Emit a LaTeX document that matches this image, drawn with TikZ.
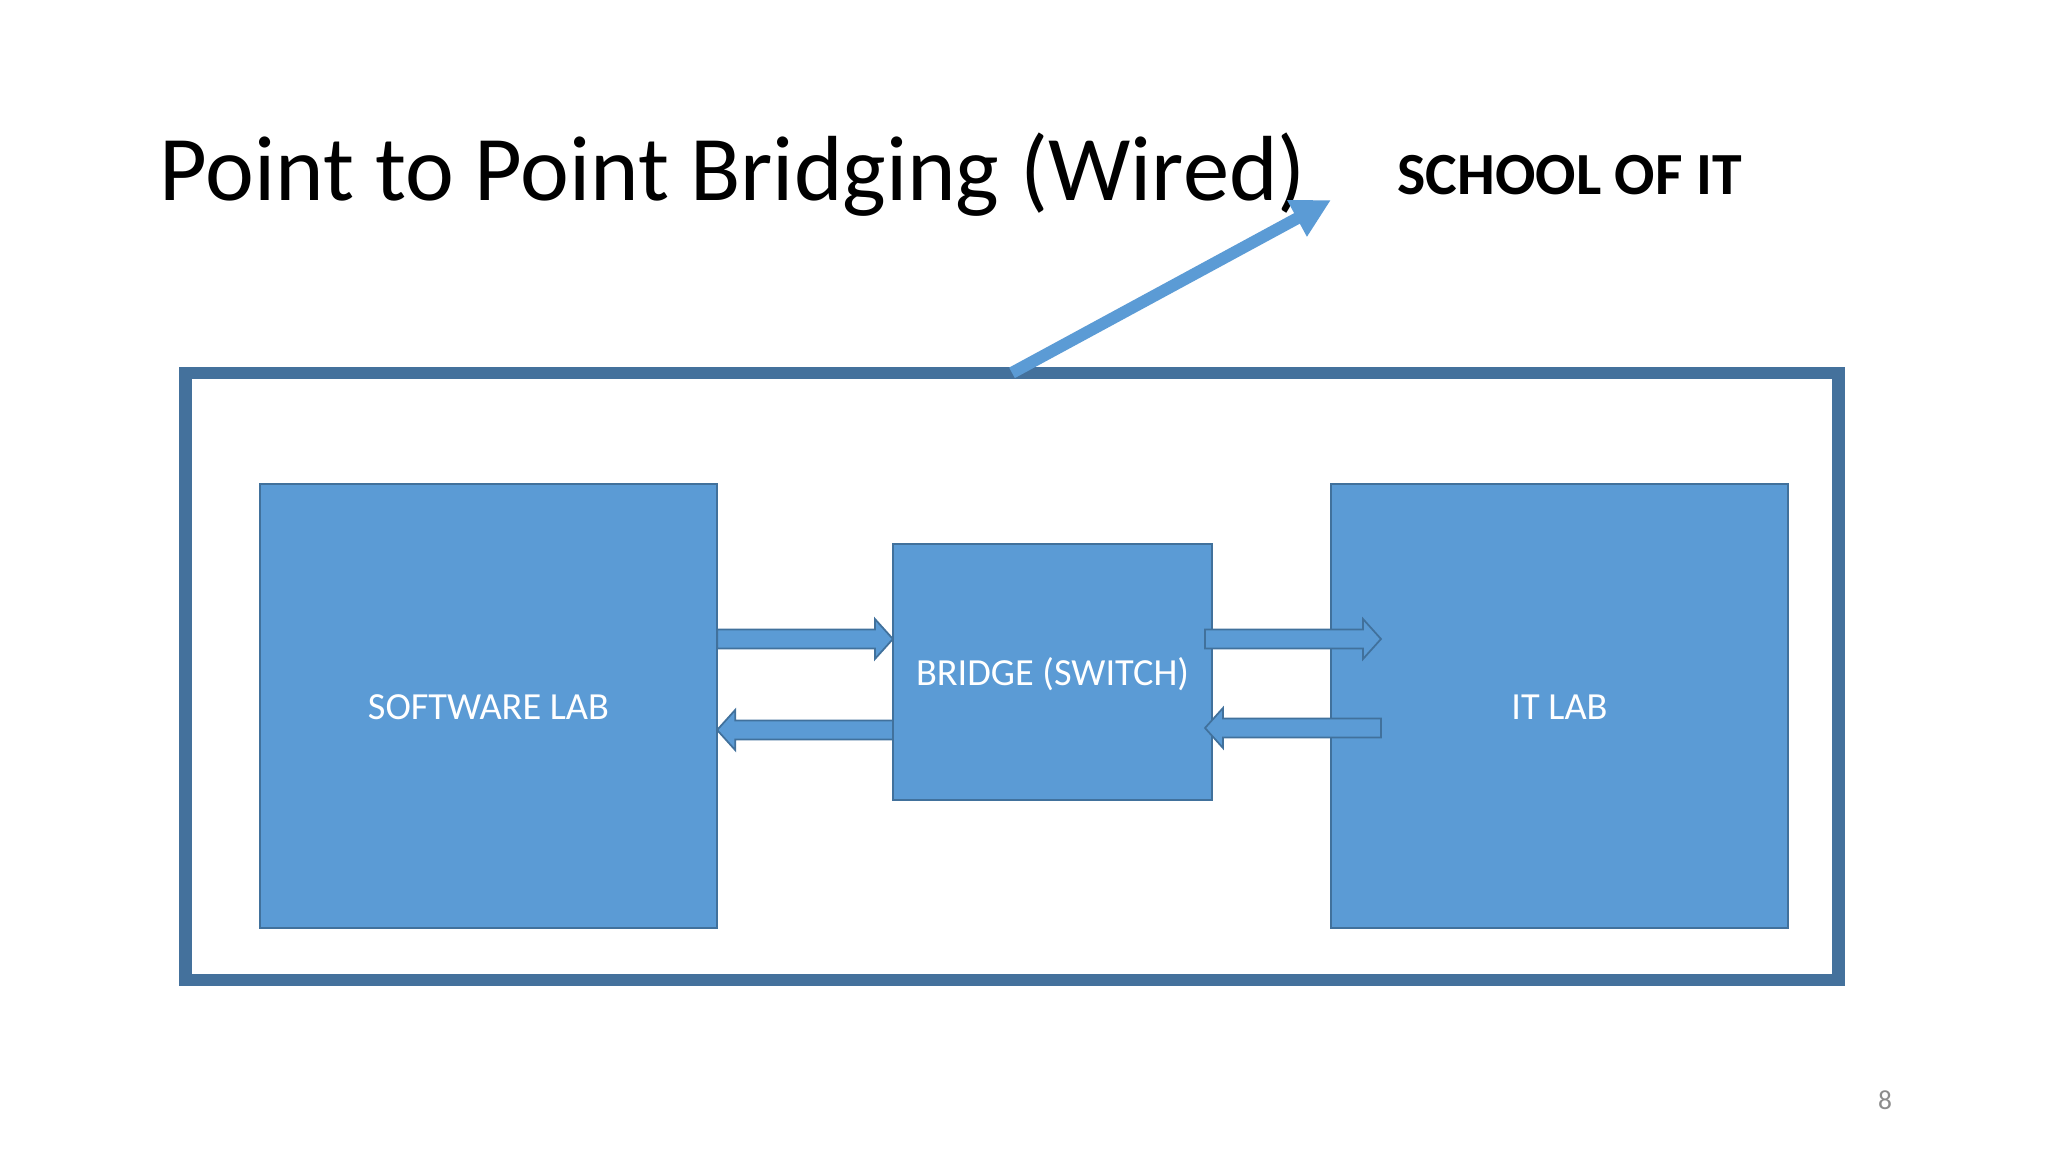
\documentclass[tikz,border=0pt]{standalone}
\usepackage{xcolor}
\usepackage{fontspec}
\setmainfont{Carlito}
\usetikzlibrary{arrows.meta,calc}

\definecolor{boxblue}{HTML}{5B9BD5}
\definecolor{edgeblue}{HTML}{41719C}
\definecolor{framecol}{HTML}{44719C}

\tikzset{
	labbox/.style={draw=edgeblue,fill=boxblue,line width=0.4pt,text=white,font=\fontsize{10.9}{12}\selectfont,text height=7.4pt,text depth=0pt,inner sep=0pt,outer sep=0pt},
	blockarrow/.style={draw=edgeblue,fill=boxblue,line width=0.5pt,line join=miter},
	schoolframe/.style={draw=framecol,line width=3.5pt,inner sep=0pt,outer sep=0pt},
	pointer/.style={draw=boxblue,line width=3.4pt,-{Triangle[length=11pt,width=11pt]}}
}

\newcommand{\linkarrow}[3]{
	\draw[blockarrow] ($(#1)+(0,-9.5)$) -- ($(#2)+(-18*#3,-9.5)$) -- ($(#2)+(-18*#3,-20)$) -- (#2)
		-- ($(#2)+(-18*#3,20)$) -- ($(#2)+(-18*#3,9.5)$) -- ($(#1)+(0,9.5)$) -- cycle;
}

\begin{document}
\begin{tikzpicture}[x=0.01cm,y=-0.01cm]

	\useasboundingbox (0,0) rectangle (2048,1152);
	\fill[white] (0,0) rectangle (2048,1152);

	\node[anchor=base west,inner sep=0pt,font=\fontsize{26.3}{30}\selectfont] (title) at (159,201) {Point to Point Bridging (Wired)};
	\node[anchor=base west,inner sep=0pt,font=\fontsize{17}{20}\selectfont\bfseries] (school) at (1397,195) {SCHOOL OF IT};

	\node[schoolframe,minimum width=16.52cm,minimum height=6.07cm] (frame) at (1012,676.5) {};

	\node[labbox,minimum width=4.57cm,minimum height=4.44cm] (softlab) at (488.5,706) {SOFTWARE LAB};
	\node[labbox,minimum width=4.57cm,minimum height=4.44cm] (itlab) at (1559.5,706) {IT LAB};
	\node[labbox,minimum width=3.19cm,minimum height=2.56cm] (bridge) at (1052.5,672) {BRIDGE (SWITCH)};

	\coordinate (softout) at (softlab.east |- 0,639);
	\coordinate (bridgein) at (bridge.west |- 0,639);
	\coordinate (softin) at (softlab.east |- 0,730);
	\coordinate (bridgeout) at (bridge.west |- 0,730);
	\coordinate (bridgetail) at (1205,639);
	\coordinate (ittip) at (1381,639);
	\coordinate (ittail) at (1381,728);
	\coordinate (bridgetip) at (1205,728);

	\linkarrow{softout}{bridgein}{1}
	\linkarrow{bridgeout}{softin}{-1}
	\linkarrow{bridgetail}{ittip}{1}
	\linkarrow{ittail}{bridgetip}{-1}

	\coordinate (pointertip) at (1331,200);
	\draw[pointer] (frame.north) -- (pointertip);

	\node[text=black!45,inner sep=0pt,font=\fontsize{7.8}{9}\selectfont] (pageno) at (1885,1100) {8};

\end{tikzpicture}
\end{document}
